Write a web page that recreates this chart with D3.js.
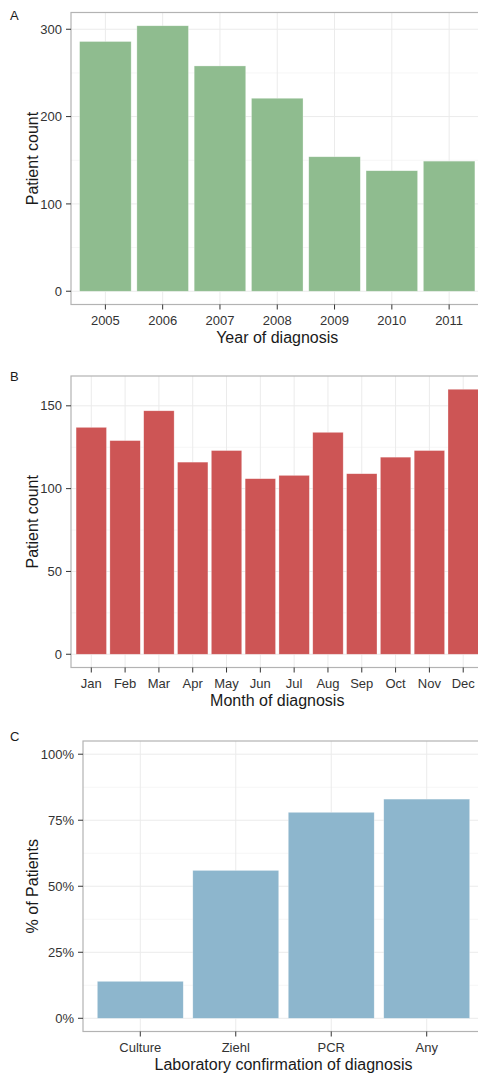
<!DOCTYPE html>
<html>
<head>
<meta charset="utf-8">
<script src="https://cdn.jsdelivr.net/npm/d3@7"></script>
<style>
  html, body { margin: 0; padding: 0; background: #fff; }
  svg { display: block; font-family: "Liberation Sans", Arial, Helvetica, sans-serif; }
</style>
</head>
<body>
<svg id="chart" width="478" height="1077"></svg>
<script>
// ---- Data ----
const years = ["2005", "2006", "2007", "2008", "2009", "2010", "2011"];
const yearCounts = [286, 304, 258, 221, 154, 138, 149];
const yearTicks = [0, 100, 200, 300];

const months = ["Jan", "Feb", "Mar", "Apr", "May", "Jun", "Jul", "Aug", "Sep", "Oct", "Nov", "Dec"];
const monthCounts = [137, 129, 147, 116, 123, 106, 108, 134, 109, 119, 123, 160];
const monthTicks = [0, 50, 100, 150];

const methods = ["Culture", "Ziehl", "PCR", "Any"];
const methodPct = [0.14, 0.56, 0.78, 0.83];
const pctTicks = [0, 0.25, 0.5, 0.75, 1.0];

const svg = d3.select("#chart");

function panel(opts) {
  const { cats, vals, ticks, left, right, top, bottom, color, letter, xTitle, yTitle,
          yMax, fmt, letterY, xTitleY } = opts;
  const g = svg.append("g");
  // ggplot-like discrete scale: category centres at 1..n, limits expanded by 0.6
  const n = cats.length;
  const xs = d3.scaleLinear().domain([0.4, n + 0.6]).range([left, right]);
  const xc = c => xs(cats.indexOf(c) + 1);
  const ext = yMax * 0.05;
  const y = d3.scaleLinear().domain([-ext, yMax + ext]).range([bottom, top]);

  g.append("rect").attr("x", left).attr("y", top).attr("width", right - left).attr("height", bottom - top)
    .attr("fill", "#fff");

  // minor gridlines
  const minor = [];
  for (let i = 0; i < ticks.length - 1; i++) minor.push((ticks[i] + ticks[i + 1]) / 2);
  const st = ticks[1] - ticks[0];
  if (ticks[ticks.length - 1] + st / 2 < yMax + ext) minor.push(ticks[ticks.length - 1] + st / 2);
  g.selectAll(".minor").data(minor).join("line")
    .attr("x1", left).attr("x2", right).attr("y1", d => y(d)).attr("y2", d => y(d))
    .attr("stroke", "#f6f6f6").attr("stroke-width", 1);
  // major gridlines
  g.selectAll(".majh").data(ticks).join("line")
    .attr("x1", left).attr("x2", right).attr("y1", d => y(d)).attr("y2", d => y(d))
    .attr("stroke", "#ebebeb").attr("stroke-width", 1);
  g.selectAll(".majv").data(cats).join("line")
    .attr("x1", d => xc(d)).attr("x2", d => xc(d)).attr("y1", top).attr("y2", bottom)
    .attr("stroke", "#ebebeb").attr("stroke-width", 1);

  // bars
  const bw = (xs(2) - xs(1)) * 0.9;
  g.selectAll(".bar").data(cats).join("rect")
    .attr("x", d => xc(d) - bw / 2)
    .attr("width", bw)
    .attr("y", (d, i) => y(vals[i]))
    .attr("height", (d, i) => y(0) - y(vals[i]))
    .attr("fill", color)
    .attr("stroke", "#ffffff").attr("stroke-opacity", 0.5).attr("stroke-width", 0.6);

  // panel border
  g.append("rect").attr("x", left).attr("y", top).attr("width", right - left).attr("height", bottom - top)
    .attr("fill", "none").attr("stroke", "#b3b3b3").attr("stroke-width", 1.2);

  // y ticks
  g.selectAll(".yt").data(ticks).join("line")
    .attr("x1", left - 5).attr("x2", left).attr("y1", d => y(d)).attr("y2", d => y(d))
    .attr("stroke", "#333").attr("stroke-width", 1);
  g.selectAll(".yl").data(ticks).join("text")
    .attr("x", left - 9).attr("y", d => y(d)).attr("dy", "0.36em")
    .attr("text-anchor", "end").attr("font-size", 13).attr("fill", "#333")
    .text(d => fmt(d));

  // x ticks
  g.selectAll(".xt").data(cats).join("line")
    .attr("x1", d => xc(d)).attr("x2", d => xc(d)).attr("y1", bottom).attr("y2", bottom + 5)
    .attr("stroke", "#333").attr("stroke-width", 1);
  g.selectAll(".xl").data(cats).join("text")
    .attr("x", d => xc(d)).attr("y", bottom + 20)
    .attr("text-anchor", "middle").attr("font-size", 13).attr("fill", "#333")
    .text(d => d);

  // titles
  g.append("text").attr("x", (left + right) / 2).attr("y", xTitleY)
    .attr("text-anchor", "middle").attr("font-size", 16).attr("fill", "#1a1a1a").text(xTitle);
  g.append("text").attr("transform", `translate(38,${(top + bottom) / 2}) rotate(-90)`)
    .attr("text-anchor", "middle").attr("font-size", 16).attr("fill", "#1a1a1a").text(yTitle);
  g.append("text").attr("x", 10).attr("y", letterY)
    .attr("font-size", 13).attr("fill", "#1a1a1a").text(letter);
}

panel({
  cats: years, vals: yearCounts, ticks: yearTicks,
  left: 71, right: 483.5, top: 12.5, bottom: 304.5,
  color: "#8fbc8f", letter: "A", letterY: 20,
  xTitle: "Year of diagnosis", xTitleY: 343, yTitle: "Patient count",
  yMax: d3.max(yearCounts), fmt: d => d
});

panel({
  cats: months, vals: monthCounts, ticks: monthTicks,
  left: 71, right: 483.5, top: 376, bottom: 667.5,
  color: "#cd5555", letter: "B", letterY: 381,
  xTitle: "Month of diagnosis", xTitleY: 706, yTitle: "Patient count",
  yMax: d3.max(monthCounts), fmt: d => d
});

panel({
  cats: methods, vals: methodPct, ticks: pctTicks,
  left: 83, right: 484, top: 741, bottom: 1031.5,
  color: "#8db6cd", letter: "C", letterY: 741,
  xTitle: "Laboratory confirmation of diagnosis", xTitleY: 1070, yTitle: "% of Patients",
  yMax: 1.0, fmt: d3.format(".0%")
});
</script>
</body>
</html>
